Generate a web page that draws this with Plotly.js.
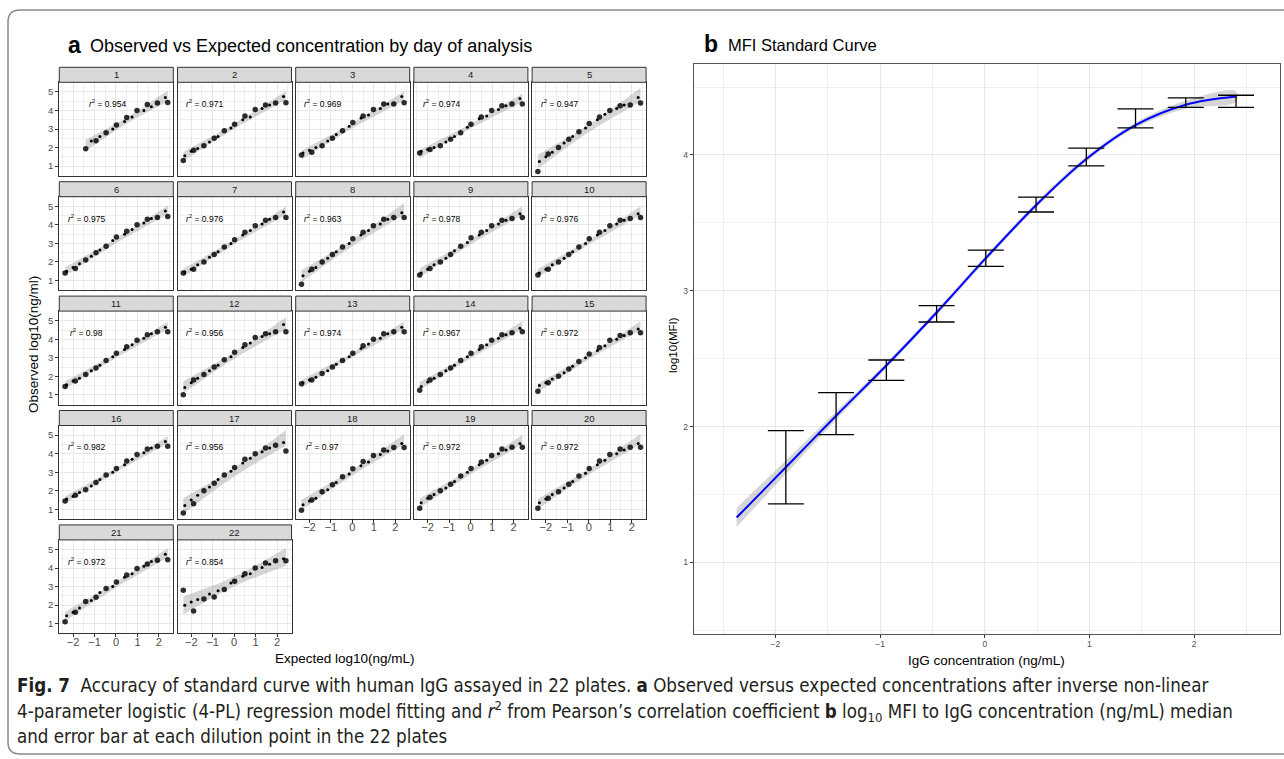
<!DOCTYPE html>
<html><head><meta charset="utf-8">
<script src="https://cdn.plot.ly/plotly-3.0.1.min.js"></script>
<style>body{margin:0;background:#fff}#chart{width:1284px;height:759px}</style>
</head><body><div id="chart"></div>
<script>
const W = 1284, H = 759;

// ---------- Panel a data ----------
const expectedX = [-2.37, -1.89, -1.41, -0.93, -0.46, 0.02, 0.5, 0.98, 1.46, 1.93, 2.41];
const replicateX = [-2.3, -2.0, -1.7, -1.15, -0.75, -0.15, 0.4, 0.75, 1.3, 1.65, 2.3];
const plateLabels = ['1','2','3','4','5','6','7','8','9','10','11','12','13','14','15','16','17','18','19','20','21','22'];
const r2Labels = ['0.954','0.971','0.969','0.974','0.947','0.975','0.976','0.963','0.978','0.976','0.98','0.956','0.974','0.967','0.972','0.982','0.956','0.97','0.972','0.972','0.972','0.854'];

const obs1  = [null, null, 1.93, 2.37, 2.8, 3.22, 3.62, 4.0, 4.32, 4.4, 4.43];
const obs2  = [1.3, 1.85, 2.1, 2.5, 2.9, 3.25, 3.7, 4.05, 4.3, 4.4, 4.42];
const obs3  = [1.6, 1.75, 2.1, 2.5, 2.9, 3.35, 3.7, 4.05, 4.35, 4.35, 4.42];
const obs4  = [1.7, 1.9, 2.1, 2.45, 2.8, 3.25, 3.65, 4.0, 4.25, 4.35, 4.35];
const obs5  = [0.7, 1.65, 2.0, 2.45, 2.85, 3.3, 3.65, 4.0, 4.25, 4.3, 4.4];
const obs6  = [1.4, 1.65, 2.1, 2.5, 2.85, 3.35, 3.65, 4.0, 4.3, 4.4, 4.45];
const obs7  = [1.4, 1.6, 2.0, 2.4, 2.8, 3.2, 3.6, 3.95, 4.25, 4.4, 4.4];
const obs8  = [0.8, 1.6, 2.0, 2.4, 2.8, 3.25, 3.6, 3.95, 4.3, 4.4, 4.4];
const obs9  = [1.3, 1.65, 2.0, 2.4, 2.85, 3.3, 3.6, 3.95, 4.25, 4.35, 4.4];
const obs10 = [1.3, 1.6, 2.0, 2.4, 2.8, 3.25, 3.6, 3.95, 4.25, 4.35, 4.4];
const obs11 = [1.45, 1.75, 2.1, 2.45, 2.85, 3.25, 3.6, 3.95, 4.25, 4.4, 4.4];
const obs12 = [1.0, 1.8, 2.1, 2.5, 2.9, 3.3, 3.7, 4.1, 4.3, 4.4, 4.4];
const obs13 = [1.6, 1.8, 2.15, 2.5, 2.85, 3.25, 3.65, 4.0, 4.3, 4.4, 4.4];
const obs14 = [1.25, 1.8, 2.1, 2.45, 2.85, 3.25, 3.6, 3.95, 4.25, 4.35, 4.4];
const obs15 = [1.2, 1.65, 2.0, 2.4, 2.8, 3.2, 3.55, 3.95, 4.2, 4.35, 4.35];
const obs16 = [1.45, 1.75, 2.05, 2.45, 2.85, 3.2, 3.6, 3.95, 4.25, 4.4, 4.4];
const obs17 = [0.8, 1.3, 2.0, 2.4, 2.85, 3.25, 3.7, 4.0, 4.3, 4.45, 4.15];
const obs18 = [0.95, 1.5, 1.95, 2.32, 2.76, 3.18, 3.58, 3.9, 4.2, 4.33, 4.33];
const obs19 = [1.05, 1.65, 2.0, 2.35, 2.8, 3.2, 3.55, 3.9, 4.25, 4.35, 4.35];
const obs20 = [1.05, 1.6, 1.95, 2.35, 2.8, 3.2, 3.6, 3.95, 4.25, 4.35, 4.35];
const obs21 = [1.1, 1.62, 2.2, 2.42, 2.9, 3.25, 3.62, 3.97, 4.22, 4.42, 4.45];
const obs22 = [2.8, 1.68, 2.33, 2.44, 2.85, 3.29, 3.7, 4.0, 4.28, 4.4, 4.4];

const rep1  = [null, null, null, 2.35, 2.6, 3.0, 3.4, 3.65, 4.0, 4.2, 4.7];
const rep2  = [1.55, 1.8, 1.95, 2.3, 2.6, 3.05, 3.5, 3.65, 4.1, 4.3, 4.75];
const rep3  = [1.7, 1.85, 2.0, 2.35, 2.7, 3.15, 3.6, 3.75, 4.1, 4.35, 4.75];
const rep4  = [1.8, 1.9, 2.0, 2.3, 2.6, 3.1, 3.55, 3.7, 4.05, 4.25, 4.65];
const rep5  = [1.25, 1.5, 1.75, 2.25, 2.6, 3.05, 3.5, 3.8, 4.1, 4.3, 4.7];
const rep6  = [1.5, 1.7, 1.9, 2.3, 2.65, 3.15, 3.5, 3.75, 4.1, 4.35, 4.75];
const rep7  = [1.45, 1.6, 1.85, 2.25, 2.55, 3.0, 3.45, 3.7, 4.05, 4.3, 4.7];
const rep8  = [1.25, 1.5, 1.7, 2.2, 2.55, 3.0, 3.45, 3.7, 4.05, 4.3, 4.65];
const rep9  = [1.4, 1.6, 1.85, 2.2, 2.6, 3.05, 3.45, 3.7, 4.05, 4.25, 4.6];
const rep10 = [1.4, 1.6, 1.85, 2.2, 2.55, 3.0, 3.45, 3.7, 4.05, 4.25, 4.6];
const rep11 = [1.55, 1.75, 1.9, 2.3, 2.6, 3.05, 3.45, 3.7, 4.05, 4.3, 4.65];
const rep12 = [1.4, 1.65, 1.9, 2.3, 2.6, 3.05, 3.55, 3.8, 4.15, 4.3, 4.8];
const rep13 = [1.65, 1.8, 1.95, 2.3, 2.65, 3.05, 3.5, 3.75, 4.05, 4.3, 4.65];
const rep14 = [1.45, 1.7, 1.9, 2.3, 2.6, 3.05, 3.45, 3.7, 4.05, 4.25, 4.6];
const rep15 = [1.5, 1.65, 1.85, 2.2, 2.55, 3.0, 3.4, 3.65, 4.0, 4.2, 4.55];
const rep16 = [1.55, 1.7, 1.9, 2.25, 2.6, 3.0, 3.4, 3.7, 4.05, 4.3, 4.65];
const rep17 = [1.2, 1.5, 1.75, 2.2, 2.6, 3.05, 3.5, 3.75, 4.1, 4.3, 4.6];
const rep18 = [1.25, 1.45, 1.6, 2.05, 2.45, 2.9, 3.35, 3.55, 3.95, 4.15, 4.55];
const rep19 = [1.35, 1.6, 1.8, 2.15, 2.5, 3.0, 3.4, 3.65, 4.0, 4.2, 4.55];
const rep20 = [1.35, 1.55, 1.8, 2.15, 2.5, 2.95, 3.4, 3.65, 4.0, 4.2, 4.55];
const rep21 = [1.43, 1.62, 1.85, 2.25, 2.68, 3.0, 3.5, 3.7, 4.1, 4.35, 4.75];
const rep22 = [1.99, 2.17, 2.3, 2.6, 2.77, 3.2, 3.56, 3.7, 4.03, 4.2, 4.5];

const obsList = [obs1,obs2,obs3,obs4,obs5,obs6,obs7,obs8,obs9,obs10,obs11,obs12,obs13,obs14,obs15,obs16,obs17,obs18,obs19,obs20,obs21,obs22];
const repList = [rep1,rep2,rep3,rep4,rep5,rep6,rep7,rep8,rep9,rep10,rep11,rep12,rep13,rep14,rep15,rep16,rep17,rep18,rep19,rep20,rep21,rep22];

// ---------- Panel b data ----------
const dilutionX = [-1.9, -1.42, -0.94, -0.46, 0.01, 0.49, 0.97, 1.44, 1.92, 2.40];
const mfiLow  = [1.43, 1.94, 2.34, 2.77, 3.18, 3.58, 3.92, 4.20, 4.35, 4.35];
const mfiHigh = [1.97, 2.25, 2.49, 2.89, 3.30, 3.69, 4.05, 4.34, 4.42, 4.44];
const fitX  = [-2.37, -1.9, -1.42, -0.94, -0.46, 0.01, 0.49, 0.97, 1.44, 1.92, 2.40];
const fitY  = [1.33, 1.70, 2.08, 2.45, 2.84, 3.24, 3.63, 3.97, 4.22, 4.37, 4.43];
const fitLo = [1.26, 1.65, 2.05, 2.43, 2.82, 3.22, 3.61, 3.95, 4.20, 4.34, 4.39];
const fitHi = [1.40, 1.75, 2.11, 2.47, 2.86, 3.26, 3.65, 3.99, 4.24, 4.40, 4.47];

// ---------- helpers ----------
const px = x => x / W;
const py = y => 1 - y / H;
const tTable = {5: 2.571, 6: 2.447, 7: 2.365, 8: 2.306, 9: 2.262, 10: 2.228, 11: 2.201, 12: 2.179};

function lmBand(xs, ys) {
  const pts = [];
  xs.forEach((x, i) => { if (ys[i] !== null && ys[i] !== undefined) pts.push([x, ys[i]]); });
  const n = pts.length;
  const mx = pts.reduce((s, p) => s + p[0], 0) / n;
  const my = pts.reduce((s, p) => s + p[1], 0) / n;
  let sxx = 0, sxy = 0;
  pts.forEach(p => { sxx += (p[0]-mx)*(p[0]-mx); sxy += (p[0]-mx)*(p[1]-my); });
  const b = sxy / sxx, a = my - b * mx;
  let sse = 0; pts.forEach(p => { const r = p[1] - (a + b*p[0]); sse += r*r; });
  const s = Math.sqrt(sse / (n - 2));
  const t = tTable[n - 2] || 2.1;
  const xmin = Math.min(...pts.map(p => p[0])), xmax = Math.max(...pts.map(p => p[0]));
  const gx = [], up = [], lo = [];
  for (let k = 0; k <= 60; k++) {
    const x = xmin + (xmax - xmin) * k / 60;
    const yh = a + b * x;
    const se = s * Math.sqrt(1/n + (x-mx)*(x-mx)/sxx);
    gx.push(x); up.push(yh + t*se); lo.push(yh - t*se);
  }
  return {x: gx.concat(gx.slice().reverse()), y: up.concat(lo.slice().reverse())};
}

const traces = [];
const layout = {
  width: W, height: H,
  margin: {l: 0, r: 0, t: 0, b: 0},
  paper_bgcolor: '#ffffff', plot_bgcolor: 'rgba(0,0,0,0)',
  showlegend: false,
  font: {family: 'Liberation Sans, Arial, sans-serif', color: '#1a1a1a'},
  annotations: [], shapes: []
};

const colLeft = [59.3, 177.5, 295.7, 413.9, 532.1];
const panelW = 114;
const rowTop0 = 67.3, rowPitch = 114.4, stripH = 15, panelH = 108.4;
const gridCol = '#e8e8e8';

for (let i = 0; i < 22; i++) {
  const r = Math.floor(i / 5), c = i % 5;
  const n = i + 1;
  const x0 = colLeft[c], x1 = x0 + panelW;
  const st = rowTop0 + r * rowPitch;
  const yt = st + stripH, yb = st + panelH;
  const isBottom = (i >= 17);
  const isLeft = (c === 0);
  const xa = 'xaxis' + (n === 1 ? '' : n), ya = 'yaxis' + (n === 1 ? '' : n);
  const xr = 'x' + (n === 1 ? '' : n), yr = 'y' + (n === 1 ? '' : n);
  layout[xa] = {
    domain: [px(x0), px(x1)], anchor: yr, range: [-2.64, 2.67],
    tickmode: 'array', tickvals: [-2, -1, 0, 1, 2],
    showticklabels: isBottom, ticks: isBottom ? 'outside' : '', ticklen: 3, tickcolor: '#333',
    ticklabelstandoff: -5,
    tickfont: {size: 11, color: '#4d4d4d'},
    showgrid: true, gridcolor: gridCol, gridwidth: 1,
    minor: {tickmode: 'array', tickvals: [-2.5, -1.5, -0.5, 0.5, 1.5, 2.5], showgrid: true, gridcolor: gridCol, gridwidth: 0.7, ticks: ''},
    showline: true, mirror: true, linecolor: '#333', linewidth: 1, zeroline: false, fixedrange: true
  };
  layout[ya] = {
    domain: [py(yb), py(yt)], anchor: xr, range: [0.48, 5.52],
    tickmode: 'array', tickvals: [1, 2, 3, 4, 5],
    showticklabels: isLeft, ticks: isLeft ? 'outside' : '', ticklen: 3, tickcolor: '#333',
    tickfont: {size: 9.5, color: '#4d4d4d'},
    showgrid: true, gridcolor: gridCol, gridwidth: 1,
    minor: {tickmode: 'array', tickvals: [1.5, 2.5, 3.5, 4.5], showgrid: true, gridcolor: gridCol, gridwidth: 0.7, ticks: ''},
    showline: true, mirror: true, linecolor: '#333', linewidth: 1, zeroline: false, fixedrange: true
  };
  const band = lmBand(expectedX, obsList[i]);
  traces.push({type: 'scatter', mode: 'lines', x: band.x, y: band.y, xaxis: xr, yaxis: yr,
    fill: 'toself', fillcolor: 'rgba(153,153,153,0.4)', line: {width: 0}, hoverinfo: 'skip'});
  traces.push({type: 'scatter', mode: 'markers', x: replicateX, y: repList[i], xaxis: xr, yaxis: yr,
    marker: {size: 3, color: '#000'}});
  traces.push({type: 'scatter', mode: 'markers', x: expectedX, y: obsList[i], xaxis: xr, yaxis: yr,
    marker: {size: 5.5, color: 'rgba(0,0,0,0.82)'}});
  // strip
  layout.shapes.push({type: 'rect', xref: 'paper', yref: 'paper', x0: px(x0), x1: px(x1), y0: py(yt), y1: py(st),
    fillcolor: '#d9d9d9', line: {color: '#333', width: 1}});
  layout.annotations.push({xref: 'paper', yref: 'paper', x: px((x0 + x1) / 2), y: py(st + stripH / 2),
    text: plateLabels[i], showarrow: false, font: {size: 9.5, color: '#1a1a1a'}, xanchor: 'center', yanchor: 'middle'});
  // r^2 label
  const minX = Math.min(...expectedX.filter((x, k) => obsList[i][k] !== null));
  layout.annotations.push({xref: xr, yref: yr, x: minX + 1.0, y: 4.37,
    text: '<i>r</i><sup>2</sup> = ' + r2Labels[i], showarrow: false, font: {size: 8.5, color: '#000'}, xanchor: 'center', yanchor: 'middle'});
}

// ---------- Panel b ----------
layout.xaxis23 = {
  domain: [px(693.7), px(1280)], anchor: 'y23', range: [-2.78, 2.82],
  tickmode: 'array', tickvals: [-2, -1, 0, 1, 2], ticks: 'outside', ticklen: 3, tickcolor: '#333',
  ticklabelstandoff: -2,
  tickfont: {size: 8.5, color: '#4d4d4d'},
  showgrid: true, gridcolor: gridCol, gridwidth: 1,
  minor: {tickmode: 'array', tickvals: [-2.5, -1.5, -0.5, 0.5, 1.5, 2.5], showgrid: true, gridcolor: gridCol, gridwidth: 0.7, ticks: ''},
  showline: true, mirror: true, linecolor: '#555', linewidth: 1, zeroline: false, fixedrange: true
};
layout.yaxis23 = {
  domain: [py(634.3), py(64)], anchor: 'x23', range: [0.47, 4.67],
  tickmode: 'array', tickvals: [1, 2, 3, 4], ticks: 'outside', ticklen: 3, tickcolor: '#333',
  tickfont: {size: 8.5, color: '#4d4d4d'},
  showgrid: true, gridcolor: gridCol, gridwidth: 1,
  minor: {tickmode: 'array', tickvals: [0.5, 1.5, 2.5, 3.5, 4.5], showgrid: true, gridcolor: gridCol, gridwidth: 0.7, ticks: ''},
  showline: true, mirror: true, linecolor: '#555', linewidth: 1, zeroline: false, fixedrange: true
};
traces.push({type: 'scatter', mode: 'lines', x: fitX.concat(fitX.slice().reverse()), y: fitHi.concat(fitLo.slice().reverse()),
  xaxis: 'x23', yaxis: 'y23', fill: 'toself', fillcolor: 'rgba(153,153,153,0.4)', line: {width: 0, shape: 'spline'}, hoverinfo: 'skip'});
traces.push({type: 'scatter', mode: 'lines', x: fitX, y: fitY, xaxis: 'x23', yaxis: 'y23',
  line: {color: '#0000ff', width: 2, shape: 'spline'}});
const mid = mfiLow.map((l, k) => (l + mfiHigh[k]) / 2);
traces.push({type: 'scatter', mode: 'markers', x: dilutionX, y: mid, xaxis: 'x23', yaxis: 'y23',
  marker: {size: 1, color: 'rgba(0,0,0,0)'},
  error_y: {type: 'data', symmetric: false, array: mfiHigh.map((h, k) => h - mid[k]), arrayminus: mid.map((m, k) => m - mfiLow[k]),
    color: '#000', thickness: 1.3, width: 18}});

// ---------- titles & text ----------
const A = layout.annotations;
A.push({xref: 'paper', yref: 'paper', x: px(66), y: py(45), xanchor: 'left', yanchor: 'middle', showarrow: false,
  text: '<b>a</b>', font: {size: 23, color: '#000'}});
A.push({xref: 'paper', yref: 'paper', x: px(88), y: py(46), xanchor: 'left', yanchor: 'middle', showarrow: false,
  text: 'Observed vs Expected concentration by day of analysis', font: {size: 18, color: '#000'}});
A.push({xref: 'paper', yref: 'paper', x: px(702), y: py(44), xanchor: 'left', yanchor: 'middle', showarrow: false,
  text: '<b>b</b>', font: {size: 23, color: '#000'}});
A.push({xref: 'paper', yref: 'paper', x: px(726), y: py(45), xanchor: 'left', yanchor: 'middle', showarrow: false,
  text: 'MFI Standard Curve', font: {size: 16.5, color: '#000'}});
A.push({xref: 'paper', yref: 'paper', x: px(33), y: py(345), xanchor: 'center', yanchor: 'middle', showarrow: false,
  text: 'Observed log10(ng/ml)', textangle: -90, font: {size: 13.5, color: '#000'}});
A.push({xref: 'paper', yref: 'paper', x: px(345), y: py(658), xanchor: 'center', yanchor: 'middle', showarrow: false,
  text: 'Expected log10(ng/mL)', font: {size: 13.5, color: '#000'}});
A.push({xref: 'paper', yref: 'paper', x: px(673), y: py(345), xanchor: 'center', yanchor: 'middle', showarrow: false,
  text: 'log10(MFI)', textangle: -90, font: {size: 11.5, color: '#000'}});
A.push({xref: 'paper', yref: 'paper', x: px(986), y: py(660), xanchor: 'center', yanchor: 'middle', showarrow: false,
  text: 'IgG concentration (ng/mL)', font: {size: 13.5, color: '#000'}});

const capFont = {family: '"Liberation Sans Narrow", "Arial Narrow", "DejaVu Sans Condensed", sans-serif', size: 18.6, color: '#231f20'};
const capLines = [
  '<b>Fig. 7</b>  Accuracy of standard curve with human IgG assayed in 22 plates. <b>a</b> Observed versus expected concentrations after inverse non-linear',
  '4-parameter logistic (4-PL) regression model fitting and <i>r</i><sup>2</sup> from Pearson\u2019s correlation coefficient <b>b</b> log<sub>10</sub> MFI to IgG concentration (ng/mL) median',
  'and error bar at each dilution point in the 22 plates'
];
const capY = [685, 711, 736];
capLines.forEach((t, k) => A.push({xref: 'paper', yref: 'paper', x: px(15), y: py(capY[k]), xanchor: 'left', yanchor: 'middle',
  showarrow: false, text: t, font: capFont}));

// figure frame
const fr = [[1300, 10], [20, 10], [8, 10], [8, 22], [8, 742], [8, 754], [20, 754], [1300, 754]];
const P = p => px(p[0]).toFixed(5) + ',' + py(p[1]).toFixed(5);
layout.shapes.push({type: 'path', xref: 'paper', yref: 'paper',
  path: 'M' + P(fr[0]) + ' L' + P(fr[1]) + ' Q' + P(fr[2]) + ' ' + P(fr[3]) + ' L' + P(fr[4]) + ' Q' + P(fr[5]) + ' ' + P(fr[6]) + ' L' + P(fr[7]),
  line: {color: '#8a8a8a', width: 1.5}});

Plotly.newPlot('chart', traces, layout, {staticPlot: true, displayModeBar: false});
</script></body></html>
